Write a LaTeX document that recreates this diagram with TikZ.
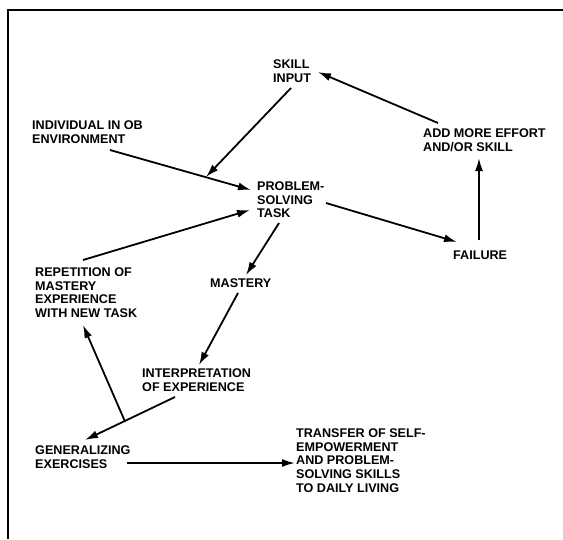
\documentclass[tikz,border=0pt]{standalone}
\usepackage{fontspec}
\setmainfont{Liberation Sans}
\usetikzlibrary{arrows.meta}
\begin{document}
\begin{tikzpicture}[x=1pt,y=-1pt,
  lbl/.style={anchor=base west,inner sep=0pt,align=left,
    font=\fontsize{12.6}{13.7}\selectfont\bfseries},
  conn/.style={line width=1.8pt,-{Latex[length=13pt,width=8pt]}},
  frame/.style={line width=2.6pt}]
\useasboundingbox (0,0) rectangle (563,539);
% frame
\coordinate (fr1) at (8,539);
\coordinate (fr2) at (8,10);
\coordinate (fr3) at (563,10);
\draw[frame] (fr1) -- (fr2) -- (fr3);
% nodes (anchored at the baseline of their last line)
\node[lbl] (skill) at (273,82.1) {SKILL\\INPUT};
\node[lbl] (ind) at (32,143.1) {INDIVIDUAL IN OB\\ENVIRONMENT};
\node[lbl] (add) at (423,151.1) {ADD MORE EFFORT\\AND/OR SKILL};
\node[lbl] (prob) at (257,217.8) {PROBLEM-\\SOLVING\\TASK};
\node[lbl] (fail) at (453,259.4) {FAILURE};
\node[lbl] (rep) at (35,317.5) {REPETITION OF\\MASTERY\\EXPERIENCE\\WITH NEW TASK};
\node[lbl] (mast) at (210,287.4) {MASTERY};
\node[lbl] (interp) at (142,391.1) {INTERPRETATION\\OF EXPERIENCE};
\node[lbl] (gen) at (35,468.1) {GENERALIZING\\EXERCISES};
\node[lbl] (trans) at (296,492.2) {TRANSFER OF SELF-\\EMPOWERMENT\\AND PROBLEM-\\SOLVING SKILLS\\TO DAILY LIVING};
% connector end points
\coordinate (skill-out) at (291,88);
\coordinate (join1) at (206,177);
\coordinate (ind-out) at (110,150);
\coordinate (prob-in1) at (251,190);
\coordinate (add-out) at (438,123);
\coordinate (skill-in) at (318,72);
\coordinate (fail-out) at (479,240);
\coordinate (add-in) at (479,158);
\coordinate (prob-out1) at (326,203);
\coordinate (fail-in) at (457,242);
\coordinate (rep-out) at (83,260);
\coordinate (prob-in2) at (250,210);
\coordinate (prob-out2) at (279,223);
\coordinate (mast-in) at (246,275);
\coordinate (mast-out) at (238,293);
\coordinate (interp-in) at (199,365);
\coordinate (interp-out) at (175,397);
\coordinate (gen-in) at (85,440);
\coordinate (join2) at (125,421.5);
\coordinate (rep-in) at (83,325);
\coordinate (gen-out) at (127,463);
\coordinate (trans-in) at (295,463);
% connectors
\draw[conn] (skill-out) -- (join1);
\draw[conn] (ind-out) -- (prob-in1);
\draw[conn] (add-out) -- (skill-in);
\draw[conn] (fail-out) -- (add-in);
\draw[conn] (prob-out1) -- (fail-in);
\draw[conn] (rep-out) -- (prob-in2);
\draw[conn] (prob-out2) -- (mast-in);
\draw[conn] (mast-out) -- (interp-in);
\draw[conn] (interp-out) -- (gen-in);
\draw[conn] (join2) -- (rep-in);
\draw[conn] (gen-out) -- (trans-in);
\end{tikzpicture}
\end{document}
